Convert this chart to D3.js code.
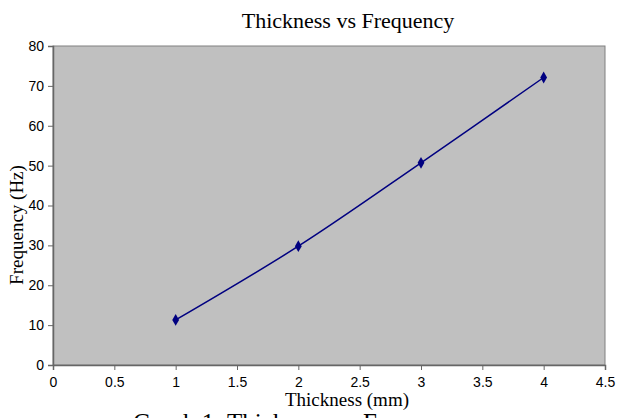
<!DOCTYPE html>
<html>
<head>
<meta charset="utf-8">
<script src="https://cdn.jsdelivr.net/npm/d3@7"></script>
<style>
  body { margin: 0; background: #fff; }
  svg { display: block; }
</style>
</head>
<body>
<svg id="chart" width="617" height="418"></svg>
<script>
var thickness = [1, 2, 3, 4];
var frequency = [11.3, 29.8, 50.7, 72.1];
var xTicks = [0, 0.5, 1, 1.5, 2, 2.5, 3, 3.5, 4, 4.5];
var yTicks = [0, 10, 20, 30, 40, 50, 60, 70, 80];

var svg = d3.select('#chart');
var plotLeft = 53, plotRight = 605, plotTop = 46, plotBottom = 365;

var x = d3.scaleLinear().domain([0, 4.5]).range([plotLeft, plotRight]);
var y = d3.scaleLinear().domain([0, 80]).range([plotBottom, plotTop]);

// plot area
svg.append('rect')
    .attr('x', plotLeft).attr('y', plotTop)
    .attr('width', plotRight - plotLeft).attr('height', plotBottom - plotTop)
    .attr('fill', '#c0c0c0')
    .attr('stroke', '#808080')
    .attr('stroke-width', 1);

var xAxis = svg.append('g')
    .attr('transform', 'translate(0,' + plotBottom + ')')
    .call(d3.axisBottom(x).tickValues(xTicks).tickSize(5).tickPadding(7)
        .tickFormat(d => String(d)));

var yAxis = svg.append('g')
    .attr('transform', 'translate(' + plotLeft + ',0)')
    .call(d3.axisLeft(y).tickValues(yTicks).tickSize(5).tickPadding(4));

[xAxis, yAxis].forEach(function (g) {
    g.select('.domain').attr('stroke', '#666').attr('stroke-width', 1.5);
    g.selectAll('.tick line').attr('stroke', '#666');
    g.selectAll('.tick text')
        .attr('fill', '#000')
        .style('font-family', 'Liberation Sans, Arial, sans-serif')
        .style('font-size', '14px');
});

var pts = thickness.map((t, i) => [t, frequency[i]]);

svg.append('path')
    .datum(pts)
    .attr('fill', 'none')
    .attr('stroke', '#000080')
    .attr('stroke-width', 1.5)
    .attr('d', d3.line().x(d => x(d[0])).y(d => y(d[1])).curve(d3.curveCatmullRom));

svg.selectAll('.pt')
    .data(pts)
    .join('path')
    .attr('class', 'pt')
    .attr('transform', d => 'translate(' + x(d[0]) + ',' + y(d[1]) + ')')
    .attr('d', d3.symbol().type(d3.symbolDiamond).size(40))
    .attr('fill', '#000080');

var serif = 'Liberation Serif, Times New Roman, serif';

svg.append('text')
    .attr('x', 348).attr('y', 28)
    .attr('text-anchor', 'middle')
    .style('font-family', serif)
    .style('font-size', '22px')
    .text('Thickness vs Frequency');

svg.append('text')
    .attr('x', 347).attr('y', 406)
    .attr('text-anchor', 'middle')
    .style('font-family', serif)
    .style('font-size', '19px')
    .text('Thickness (mm)');

svg.append('text')
    .attr('transform', 'translate(23,225) rotate(-90)')
    .attr('text-anchor', 'middle')
    .style('font-family', serif)
    .style('font-size', '19px')
    .text('Frequency (Hz)');

svg.append('text')
    .attr('x', 133).attr('y', 431)
    .style('font-family', serif)
    .style('font-size', '25px')
    .text('Graph 1: Thickness vs Frequency');
</script>
</body>
</html>
